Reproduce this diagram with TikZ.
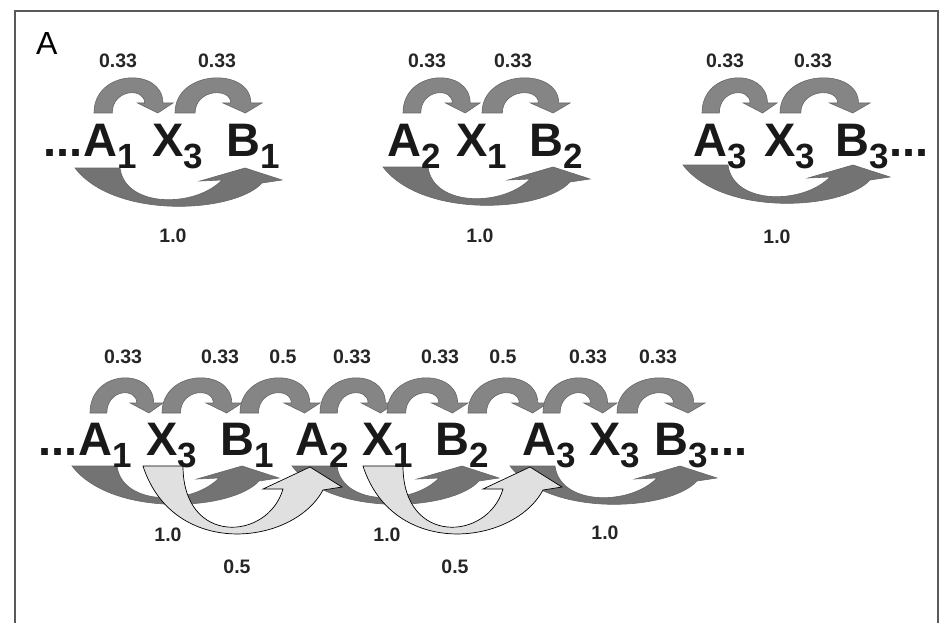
\documentclass[tikz,border=0pt]{standalone}
\usepackage{fontspec}
\setmainfont{Liberation Sans}
\newcommand\sub[1]{\raisebox{-0.26em}{\fontsize{35}{35}\selectfont #1}}
\definecolor{hopgray}{gray}{0.52}
\definecolor{longgray}{gray}{0.45}
\definecolor{skipgray}{gray}{0.88}
\tikzset{
  sym/.style={font=\bfseries\fontsize{47}{47}\selectfont,text=black!90,inner sep=0pt,anchor=base west},
  prob/.style={font=\bfseries\fontsize{19.5}{19.5}\selectfont,text=black!85,inner sep=0pt},
  hoparrow/.pic={\filldraw[fill=hopgray,draw=black!60,line width=0.6pt,xscale={#1/78}]
    (0,0) .. controls (0,-44) and (68,-46) .. (68,-10) -- (78,-10) -- (63,0) -- (43,-10) -- (50,-10)
    .. controls (50,-26) and (18,-24) .. (18,0) -- cycle;},
  longarrow/.pic={\filldraw[fill=longgray,draw=black!60,line width=0.6pt]
    (0,0) .. controls (40,52) and (160,45) .. (187,15) -- (207,12) -- (170,0) -- (125,13) -- (147,12)
    .. controls (120,40) and (50,40) .. (45,0) -- cycle;},
  skiparrow/.pic={\filldraw[fill=skipgray,draw=black,line width=0.7pt]
    (0,0) .. controls (30,93) and (150,80) .. (180,24) -- (199,21) -- (167,1) -- (120,23) -- (140,23)
    .. controls (125,75) and (40,80) .. (40,0) -- cycle;},
}

\begin{document}
\begin{tikzpicture}[x=1pt,y=-1pt]
  \useasboundingbox (0,0) rectangle (939,623);
  \fill[white] (0,0) rectangle (939,623);
  \draw[line width=1.2pt,black!65] (15,11) rectangle (938,640);
  \node[font=\fontsize{32}{32}\selectfont,inner sep=0pt,anchor=base west] (panel) at (36,55) {A};

  % upper row: three separate triples
  \foreach \x/\w in {94/79,175/87,403/77,482/88,702/75,780/90}{\pic at (\x,113) {hoparrow=\w};}
  \foreach \x/\y in {75/168,383/167,683/165}{\pic at (\x,\y) {longarrow};}
  \node[sym] (ua1) at (83,156) {A\sub{1}};
  \node[sym,anchor=base east] (udots) at (ua1.base west) {...};
  \node[sym] (ux3) at (152,156) {X\sub{3}};
  \node[sym] (ub1) at (226,156) {B\sub{1}};
  \node[sym] (ua2) at (387,156) {A\sub{2}};
  \node[sym] (ux1) at (456,156) {X\sub{1}};
  \node[sym] (ub2) at (529,156) {B\sub{2}};
  \node[sym] (ua3) at (693,156) {A\sub{3}};
  \node[sym] (ux3b) at (764,156) {X\sub{3}};
  \node[sym] (ub3) at (835,156) {B\sub{3}};
  \node[sym] (uend) at (ub3.base east) {...};
  \foreach \x/\t [count=\i] in {118/0.33,217/0.33,427/0.33,513/0.33,725/0.33,813/0.33}{\node[prob] (up\i) at (\x,61) {\t};}
  \foreach \x/\y [count=\i] in {173/236,480/236,777/237}{\node[prob] (uq\i) at (\x,\y) {1.0};}

  % lower row: one chain
  \foreach \x/\w in {90/73,162/80,240/80,320/75,387/81,468/80,543/74,617/88}{\pic at (\x,413) {hoparrow=\w};}
  \foreach \x in {72,292,510}{\pic at (\x,466) {longarrow};}
  \foreach \x in {143,363}{\pic at (\x,466) {skiparrow};}
  \node[sym] (la1) at (78,455) {A\sub{1}};
  \node[sym,anchor=base east] (ldots) at (la1.base west) {...};
  \node[sym] (lx3) at (146,455) {X\sub{3}};
  \node[sym] (lb1) at (220,455) {B\sub{1}};
  \node[sym] (la2) at (295,455) {A\sub{2}};
  \node[sym] (lx1) at (362,455) {X\sub{1}};
  \node[sym] (lb2) at (435,455) {B\sub{2}};
  \node[sym] (la3) at (522,455) {A\sub{3}};
  \node[sym] (lx3b) at (589,455) {X\sub{3}};
  \node[sym] (lb3) at (654,455) {B\sub{3}};
  \node[sym] (lend) at (lb3.base east) {...};
  \foreach \x/\t [count=\i] in {123/0.33,220/0.33,283/0.5,352/0.33,440/0.33,503/0.5,588/0.33,658/0.33}{\node[prob] (lp\i) at (\x,357) {\t};}
  \foreach \x/\y [count=\i] in {168/535,387/535,605/533}{\node[prob] (lq\i) at (\x,\y) {1.0};}
  \foreach \x [count=\i] in {237,455}{\node[prob] (ls\i) at (\x,567) {0.5};}
\end{tikzpicture}
\end{document}
